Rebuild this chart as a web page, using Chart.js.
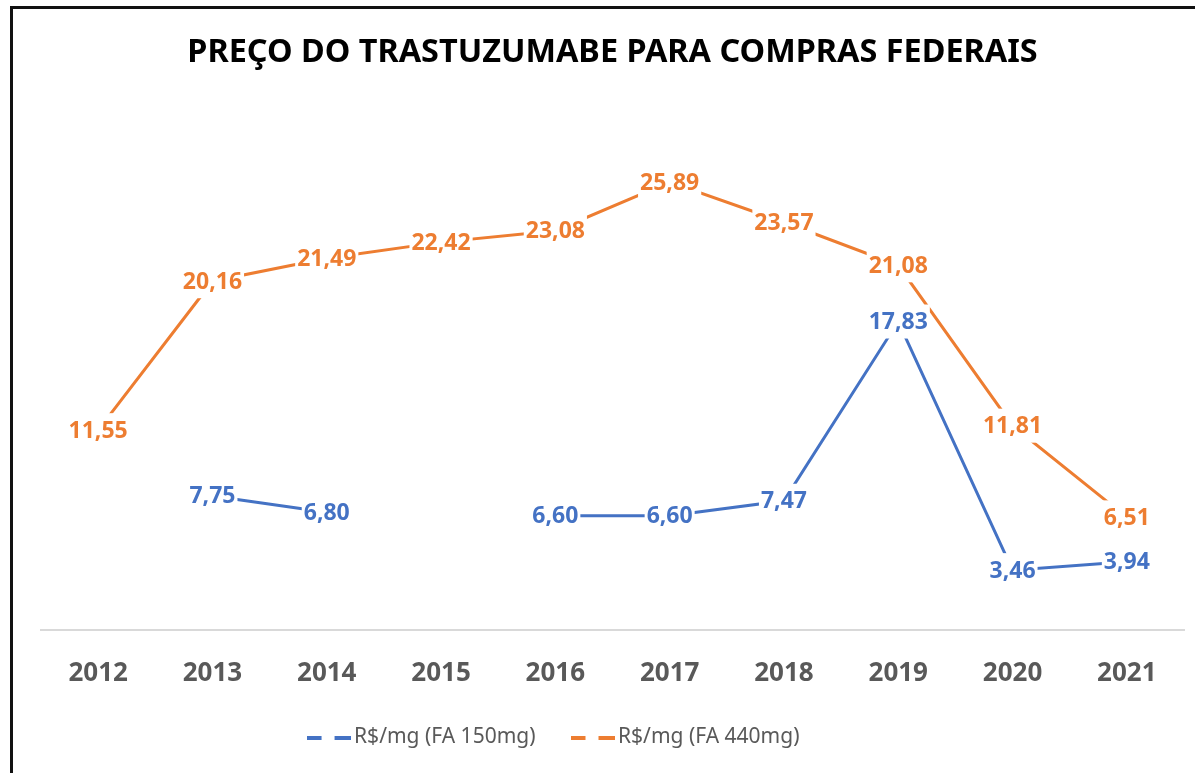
<!DOCTYPE html>
<html>
<head>
<meta charset="utf-8">
<script src="https://cdn.jsdelivr.net/npm/chart.js@4.4.1/dist/chart.umd.min.js"></script>
<style>
  html, body { margin: 0; padding: 0; background: #fff; }
  #wrap { position: relative; width: 1195px; height: 773px; }
  #frame {
    position: absolute; left: 10px; top: 6px; right: 0; bottom: 0;
    border-left: 3px solid #111; border-top: 3px solid #111;
    pointer-events: none;
  }
</style>
</head>
<body>
<div id="wrap">
  <canvas id="chart" width="1195" height="773"></canvas>
  <div id="frame"></div>
</div>
<script>
const years = ['2012', '2013', '2014', '2015', '2016', '2017', '2018', '2019', '2020', '2021'];
const fa150 = [null, 7.75, 6.80, null, 6.60, 6.60, 7.47, 17.83, 3.46, 3.94];
const fa440 = [11.55, 20.16, 21.49, 22.42, 23.08, 25.89, 23.57, 21.08, 11.81, 6.51];

const BLUE = '#4472C4';
const ORANGE = '#ED7D31';
const GRAY = '#595959';
const FONT = "'Noto Sans', 'Open Sans', sans-serif";

// legend symbol: two short dashes like the Excel legend
function dashSymbol(color) {
    const c = document.createElement('canvas');
    c.width = 44;
    c.height = 4;
    const g = c.getContext('2d');
    g.fillStyle = color;
    g.fillRect(0, 0, 15, 4);
    g.fillRect(28, 0, 16, 4);
    return c;
}

// value labels centred on the points, with a white box that cuts the line
const valueLabels = {
    id: 'valueLabels',
    afterDatasetsDraw(chart) {
        const ctx = chart.ctx;
        ctx.save();
        ctx.font = 'bold 23px ' + FONT;
        ctx.textAlign = 'center';
        ctx.textBaseline = 'middle';
        chart.data.datasets.forEach((ds, i) => {
            const meta = chart.getDatasetMeta(i);
            meta.data.forEach((pt, j) => {
                const v = ds.data[j];
                if (v === null) return;
                const text = v.toFixed(2).replace('.', ',');
                const w = ctx.measureText(text).width;
                ctx.fillStyle = '#fff';
                ctx.fillRect(pt.x - w / 2 - 2, pt.y - 17, w + 4, 34);
                ctx.fillStyle = ds.borderColor;
                ctx.fillText(text, pt.x, pt.y + 1);
            });
        });
        ctx.restore();
    }
};

// the legend in the original sits a bit left of centre
const shiftLegend = {
    id: 'shiftLegend',
    afterLayout(chart) {
        chart.legend.left -= 56;
        chart.legend.right -= 56;
    }
};

new Chart(document.getElementById('chart'), {
    type: 'line',
    data: {
        labels: years,
        datasets: [
            {
                label: 'R$/mg (FA 150mg)',
                data: fa150,
                borderColor: BLUE,
                backgroundColor: BLUE,
                borderWidth: 3,
                pointRadius: 0,
                pointHoverRadius: 0,
                pointStyle: dashSymbol(BLUE),
                spanGaps: false,
                tension: 0
            },
            {
                label: 'R$/mg (FA 440mg)',
                data: fa440,
                borderColor: ORANGE,
                backgroundColor: ORANGE,
                borderWidth: 3,
                pointRadius: 0,
                pointHoverRadius: 0,
                pointStyle: dashSymbol(ORANGE),
                tension: 0
            }
        ]
    },
    options: {
        responsive: false,
        animation: false,
        layout: {
            padding: { left: 41, right: 11, top: 0, bottom: 15 }
        },
        plugins: {
            title: {
                display: true,
                text: 'PREÇO DO TRASTUZUMABE PARA COMPRAS FEDERAIS',
                color: '#000',
                font: { family: FONT, size: 32.4, weight: 'bold', lineHeight: 1.2 },
                padding: { top: 33, bottom: 39.1 }
            },
            legend: {
                position: 'bottom',
                labels: {
                    usePointStyle: true,
                    pointStyleWidth: 30,
                    color: GRAY,
                    padding: 42,
                    font: { family: FONT, size: 21 }
                }
            },
            tooltip: { enabled: false }
        },
        scales: {
            x: {
                offset: true,
                grid: { display: false },
                border: { display: true, color: '#D9D9D9', width: 2 },
                ticks: {
                    color: GRAY,
                    padding: 20,
                    font: { family: FONT, size: 26, weight: 'bold' }
                },
                afterFit(scale) { scale.height = 55; }
            },
            y: {
                display: false,
                min: 0,
                max: 30
            }
        }
    },
    plugins: [valueLabels, shiftLegend]
});
</script>
</body>
</html>
